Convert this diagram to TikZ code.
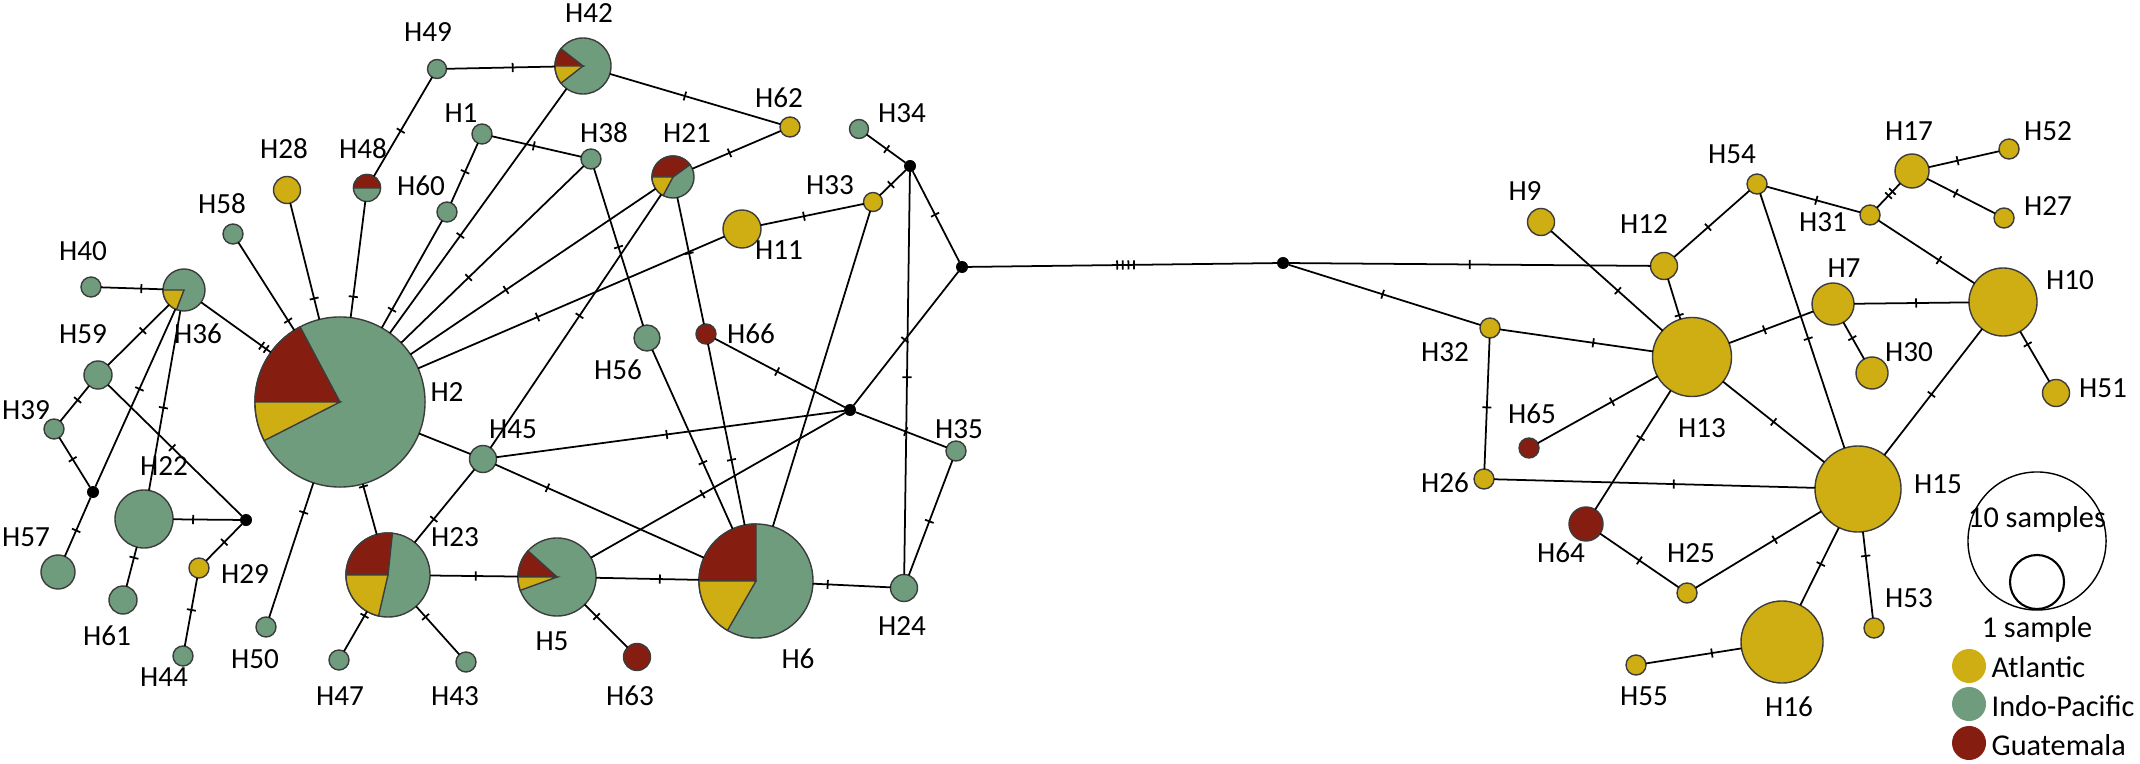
\documentclass[tikz,border=0pt]{standalone}
\usepackage{fontspec}
\setmainfont{Carlito}
\usetikzlibrary{decorations.markings}

\definecolor{atl}{HTML}{CFAE14}
\definecolor{ind}{HTML}{6F9C7C}
\definecolor{gua}{HTML}{851E10}
\definecolor{ring}{HTML}{3C3C3C}

\tikzset{
  hap/.style={circle,draw=ring,line width=0.4pt,inner sep=0pt,outer sep=0pt,minimum size=#1mm},
  med/.style={circle,fill=black,inner sep=0pt,outer sep=0pt,minimum size=1.2mm},
  lbl/.style={font=\fontsize{8.3}{10}\selectfont,inner sep=0pt},
  leg/.style={font=\fontsize{8.6}{10}\selectfont,inner sep=0pt},
  tk/.style={postaction={decorate,decoration={markings,
      mark=at position #1 with {\draw[line width=0.5pt] (0pt,-1.3pt) -- (0pt,1.3pt);}}}},
  tkk/.style={postaction={decorate,decoration={markings,
      mark=at position #1 with {\draw[line width=0.5pt] (-0.8pt,-1.3pt) -- (-0.8pt,1.3pt) (0.8pt,-1.3pt) -- (0.8pt,1.3pt);}}}},
  tkkkk/.style={postaction={decorate,decoration={markings,
      mark=at position #1 with {\draw[line width=0.5pt] (-2.4pt,-1.3pt) -- (-2.4pt,1.3pt) (-0.8pt,-1.3pt) -- (-0.8pt,1.3pt)
        (0.8pt,-1.3pt) -- (0.8pt,1.3pt) (2.4pt,-1.3pt) -- (2.4pt,1.3pt);}}}}
}

% pie slice: node, start angle, end angle, colour, radius (mm)
\newcommand{\hapwedge}[5]{\filldraw[fill=#4,draw=ring,line width=0.4pt,x=1cm,y=1cm]
  (#1.center) -- (#1.#2) arc[start angle=#2,end angle=#3,radius=#5mm] -- cycle;}

\begin{document}
\begin{tikzpicture}[x=0.01cm,y=-0.01cm]
  \useasboundingbox (0,0) rectangle (2140,764);
  % haplotypes, left group
  \node[hap=1.9,fill=ind] (H49) at (437,69) {};
  \node[hap=5.6,fill=ind] (H42) at (583,66) {};
  \node[hap=2,fill=ind] (H1) at (482,134) {};
  \node[hap=2,fill=ind] (H38) at (591,159) {};
  \node[hap=2,fill=ind] (H60) at (447,212) {};
  \node[hap=4.2,fill=ind] (H21) at (673,177) {};
  \node[hap=2,fill=atl] (H62) at (790,127) {};
  \node[hap=2.7,fill=ind] (H48) at (367,188) {};
  \node[hap=2.7,fill=atl] (H28) at (287,190) {};
  \node[hap=2,fill=ind] (H58) at (233,234) {};
  \node[hap=2,fill=ind] (H40) at (91,287) {};
  \node[hap=4.2,fill=ind] (H36) at (184,290) {};
  \node[hap=2.8,fill=ind] (H59) at (98,375) {};
  \node[hap=2,fill=ind] (H39) at (54,429) {};
  \node[hap=3.4,fill=ind] (H57) at (58,572) {};
  \node[hap=5.8,fill=ind] (H22) at (144,519) {};
  \node[hap=2.8,fill=ind] (H61) at (123,600) {};
  \node[hap=2,fill=atl] (H29) at (199,568) {};
  \node[hap=2,fill=ind] (H44) at (183,656) {};
  \node[hap=2,fill=ind] (H50) at (266,627) {};
  \node[hap=17,fill=ind] (H2) at (340,402) {};
  \node[hap=8.4,fill=ind] (H23) at (388,575) {};
  \node[hap=2,fill=ind] (H47) at (339,660) {};
  \node[hap=2,fill=ind] (H43) at (466,662) {};
  \node[hap=2.7,fill=ind] (H45) at (483,459) {};
  \node[hap=2.6,fill=ind] (H56) at (647,338) {};
  \node[hap=2,fill=gua] (H66) at (706,334) {};
  \node[hap=3.8,fill=atl] (H11) at (742,229) {};
  \node[hap=1.9,fill=atl] (H33) at (873,202) {};
  \node[hap=1.9,fill=ind] (H34) at (859,129) {};
  \node[hap=7.8,fill=ind] (H5) at (557,577) {};
  \node[hap=2.7,fill=gua] (H63) at (637,657) {};
  \node[hap=11.4,fill=ind] (H6) at (756,581) {};
  \node[hap=2,fill=ind] (H35) at (956,451) {};
  \node[hap=2.7,fill=ind] (H24) at (904,588) {};
  % haplotypes, right group
  \node[hap=2.7,fill=atl] (H9) at (1541,222) {};
  \node[hap=2.7,fill=atl] (H12) at (1664,266) {};
  \node[hap=2,fill=atl] (H54) at (1757,184) {};
  \node[hap=2,fill=atl] (H32) at (1490,328) {};
  \node[hap=7.9,fill=atl] (H13) at (1692,357) {};
  \node[hap=2,fill=gua] (H65) at (1529,448) {};
  \node[hap=2,fill=atl] (H26) at (1484,479) {};
  \node[hap=3.4,fill=gua] (H64) at (1586,524) {};
  \node[hap=2,fill=atl] (H25) at (1687,593) {};
  \node[hap=2,fill=atl] (H55) at (1636,665) {};
  \node[hap=8.2,fill=atl] (H16) at (1782,642) {};
  \node[hap=3.4,fill=atl] (H17) at (1912,171) {};
  \node[hap=2,fill=atl] (H52) at (2009,149) {};
  \node[hap=2,fill=atl] (H27) at (2004,218) {};
  \node[hap=2,fill=atl] (H31) at (1870,215) {};
  \node[hap=4.2,fill=atl] (H7) at (1833,304) {};
  \node[hap=6.8,fill=atl] (H10) at (2003,302) {};
  \node[hap=3.2,fill=atl] (H30) at (1872,373) {};
  \node[hap=2.7,fill=atl] (H51) at (2056,393) {};
  \node[hap=8.6,fill=atl] (H15) at (1858,489) {};
  \node[hap=2,fill=atl] (H53) at (1874,628) {};
  % median vectors
  \node[med] (m1) at (93,492) {};
  \node[med] (m2) at (246,520) {};
  \node[med] (m3) at (850,410) {};
  \node[med] (m4) at (910,166) {};
  \node[med] (m5) at (962,267) {};
  \node[med] (m6) at (1283,263) {};

  % shared haplotypes
  \hapwedge{H2}{118}{180}{gua}{8.5}
  \hapwedge{H2}{180}{207}{atl}{8.5}
  \hapwedge{H42}{142}{180}{gua}{2.8}
  \hapwedge{H42}{180}{218}{atl}{2.8}
  \hapwedge{H36}{180}{249}{atl}{2.1}
  \hapwedge{H21}{36}{180}{gua}{2.1}
  \hapwedge{H21}{180}{242}{atl}{2.1}
  \hapwedge{H23}{84}{180}{gua}{4.2}
  \hapwedge{H23}{180}{257}{atl}{4.2}
  \hapwedge{H5}{138}{180}{gua}{3.9}
  \hapwedge{H5}{180}{200}{atl}{3.9}
  \hapwedge{H6}{90}{180}{gua}{5.7}
  \hapwedge{H6}{180}{240}{atl}{5.7}
  \hapwedge{H48}{0}{180}{gua}{1.35}

  \begin{scope}[every edge/.style={draw,line width=0.5pt}]
    \path (H49) edge[tk=.61] (H42);
    \path (H49) edge[tk=.54] (H48);
    \path (H48) edge[tk=.82] (H2);
    \path (H28) edge[tk=.82] (H2);
    \path (H58) edge[tk=.89] (H2);
    \path (H36) edge[tkk=.9] (H2);
    \path (H40) edge[tk=.65] (H36);
    \path (H36) edge[tk=.43] (H59);
    \path (H36) edge[tk=.45] (m1);
    \path (H36) edge[tk=.54] (H22);
    \path (H59) edge[tk=.4] (H39);
    \path (H59) edge[tk=.48] (m2);
    \path (H39) edge[tk=.44] (m1);
    \path (m1) edge[tk=.56] (H57);
    \path (H22) edge[tk=.3] (m2);
    \path (H22) edge[tk=.27] (H61);
    \path (m2) edge[tk=.49] (H29);
    \path (H29) edge[tk=.47] (H44);
    \path (H2) edge[tk=.22] (H50);
    \path (H2) edge[tk=.05] (H23);
    \path (H2) edge[tk=.17] (H60);
    \path (H60) edge[tk=.52] (H1);
    \path (H1) edge[tk=.47] (H38);
    \path (H2) edge[tk=.4] (H42);
    \path (H2) edge[tk=.37] (H38);
    \path (H2) edge[tk=.39] (H21);
    \path (H2) edge[tk=.39] (H11);
    \path (H2) edge (H45);
    \path (H42) edge[tk=.44] (H62);
    \path (H21) edge[tk=.42] (H62);
    \path (H21) edge[tk=.48] (H45);
    \path (H38) edge[tk=.5] (H56);
    \path (H21) edge[tk=.44] (H66);
    \path (H11) edge[tk=.42] (H33);
    \path (H66) edge[tk=.48] (m3);
    \path (H66) edge[tk=.64] (H6);
    \path (H56) edge[tk=.63] (H6);
    \path (H45) edge[tk=.49] (m3);
    \path (H45) edge[tk=.25] (H6);
    \path (H45) edge[tk=.68] (H23);
    \path (H23) edge[tk=.52] (H5);
    \path (H23) edge[tk=.11] (H47);
    \path (H23) edge[tk=.22] (H43);
    \path (H5) edge[tk=.62] (H6);
    \path (H5) edge[tk=.28] (H63);
    \path (H5) edge[tk=.44] (m3);
    \path (H6) edge (H33);
    \path (H6) edge[tk=.19] (H24);
    \path (H24) edge[tk=.47] (H35);
    \path (m4) edge[tk=.51] (H24);
    \path (m3) edge[tk=.55] (H35);
    \path (m3) edge[tk=.49] (m5);
    \path (m4) edge[tk=.48] (H34);
    \path (m4) edge[tk=.57] (H33);
    \path (m4) edge[tk=.48] (m5);
    \path (m5) edge[tkkkk=.51] (m6);
    \path (m6) edge[tk=.5] (H12);
    \path (m6) edge[tk=.49] (H32);
    \path (H9) edge[tk=.6] (H13);
    \path (H12) edge[tk=.9] (H13);
    \path (H12) edge[tk=.45] (H54);
    \path (H32) edge[tk=.61] (H13);
    \path (H32) edge[tk=.53] (H26);
    \path (H13) edge[tk=.42] (H7);
    \path (H54) edge[tk=.53] (H31);
    \path (H54) edge[tk=.57] (H15);
    \path (H31) edge[tkk=.58] (H17);
    \path (H17) edge[tk=.41] (H52);
    \path (H17) edge[tk=.42] (H27);
    \path (H31) edge[tk=.63] (H10);
    \path (H7) edge[tk=.54] (H10);
    \path (H7) edge[tk=.43] (H30);
    \path (H10) edge[tk=.26] (H51);
    \path (H10) edge[tk=.52] (H15);
    \path (H13) edge[tk=.38] (H65);
    \path (H13) edge[tk=.4] (H64);
    \path (H13) edge[tk=.5] (H15);
    \path (H26) edge[tk=.56] (H15);
    \path (H64) edge[tk=.5] (H25);
    \path (H25) edge[tk=.63] (H15);
    \path (H15) edge[tk=.47] (H16);
    \path (H15) edge[tk=.28] (H53);
    \path (H16) edge[tk=.31] (H55);
  \end{scope}

  % labels
  \begin{scope}[every node/.style={lbl}]
    \node (l49) at (428,32) {H49};
    \node (l42) at (589,13) {H42};
    \node (l1) at (461,113) {H1};
    \node (l38) at (604,133) {H38};
    \node (l60) at (421,186) {H60};
    \node (l21) at (687,133) {H21};
    \node (l62) at (779,98) {H62};
    \node (l48) at (363,149) {H48};
    \node (l28) at (284,149) {H28};
    \node (l58) at (222,204) {H58};
    \node (l40) at (83,251) {H40};
    \node (l36) at (198,334) {H36};
    \node (l59) at (83,334) {H59};
    \node (l39) at (26,410) {H39};
    \node (l57) at (26,537) {H57};
    \node (l22) at (164,466) {H22};
    \node (l61) at (107,636) {H61};
    \node (l29) at (245,574) {H29};
    \node (l44) at (164,677) {H44};
    \node (l50) at (255,659) {H50};
    \node (l47) at (340,696) {H47};
    \node (l43) at (455,696) {H43};
    \node (l23) at (455,537) {H23};
    \node (l45) at (513,429) {H45};
    \node (l2) at (447,392) {H2};
    \node (l56) at (618,370) {H56};
    \node (l66) at (751,334) {H66};
    \node (l11) at (779,250) {H11};
    \node (l33) at (830,185) {H33};
    \node (l34) at (902,113) {H34};
    \node (l5) at (552,641) {H5};
    \node (l63) at (630,696) {H63};
    \node (l6) at (798,659) {H6};
    \node (l35) at (959,429) {H35};
    \node (l24) at (902,626) {H24};
    \node (l9) at (1525,191) {H9};
    \node (l12) at (1644,224) {H12};
    \node (l54) at (1732,154) {H54};
    \node (l32) at (1445,352) {H32};
    \node (l13) at (1702,428) {H13};
    \node (l65) at (1532,414) {H65};
    \node (l26) at (1445,483) {H26};
    \node (l64) at (1561,553) {H64};
    \node (l25) at (1691,553) {H25};
    \node (l55) at (1644,696) {H55};
    \node (l16) at (1789,707) {H16};
    \node (l17) at (1909,131) {H17};
    \node (l52) at (2048,131) {H52};
    \node (l27) at (2048,206) {H27};
    \node (l31) at (1823,222) {H31};
    \node (l7) at (1844,268) {H7};
    \node (l10) at (2070,280) {H10};
    \node (l30) at (1909,352) {H30};
    \node (l51) at (2103,388) {H51};
    \node (l15) at (1938,484) {H15};
    \node (l53) at (1909,598) {H53};
  \end{scope}

  % legend
  \node[circle,draw,line width=0.4pt,inner sep=0pt,minimum size=13.8mm] (kbig) at (2037,541) {};
  \node[circle,draw,line width=0.6pt,inner sep=0pt,minimum size=5.4mm] (ksmall) at (2037,582) {};
  \node[leg,anchor=base] (k10) at (2037,527) {10 samples};
  \node[leg,anchor=base] (k1) at (2037,637) {1 sample};
  \node[circle,fill=atl,inner sep=0pt,minimum size=3.4mm] (katl) at (1969,666) {};
  \node[circle,fill=ind,inner sep=0pt,minimum size=3.4mm] (kind) at (1969,704) {};
  \node[circle,fill=gua,inner sep=0pt,minimum size=3.4mm] (kgua) at (1969,743) {};
  \node[leg,anchor=base west] (tatl) at (1991,677) {Atlantic};
  \node[leg,anchor=base west] (tind) at (1991,716) {Indo-Pacific};
  \node[leg,anchor=base west] (tgua) at (1991,755) {Guatemala};
\end{tikzpicture}
\end{document}
